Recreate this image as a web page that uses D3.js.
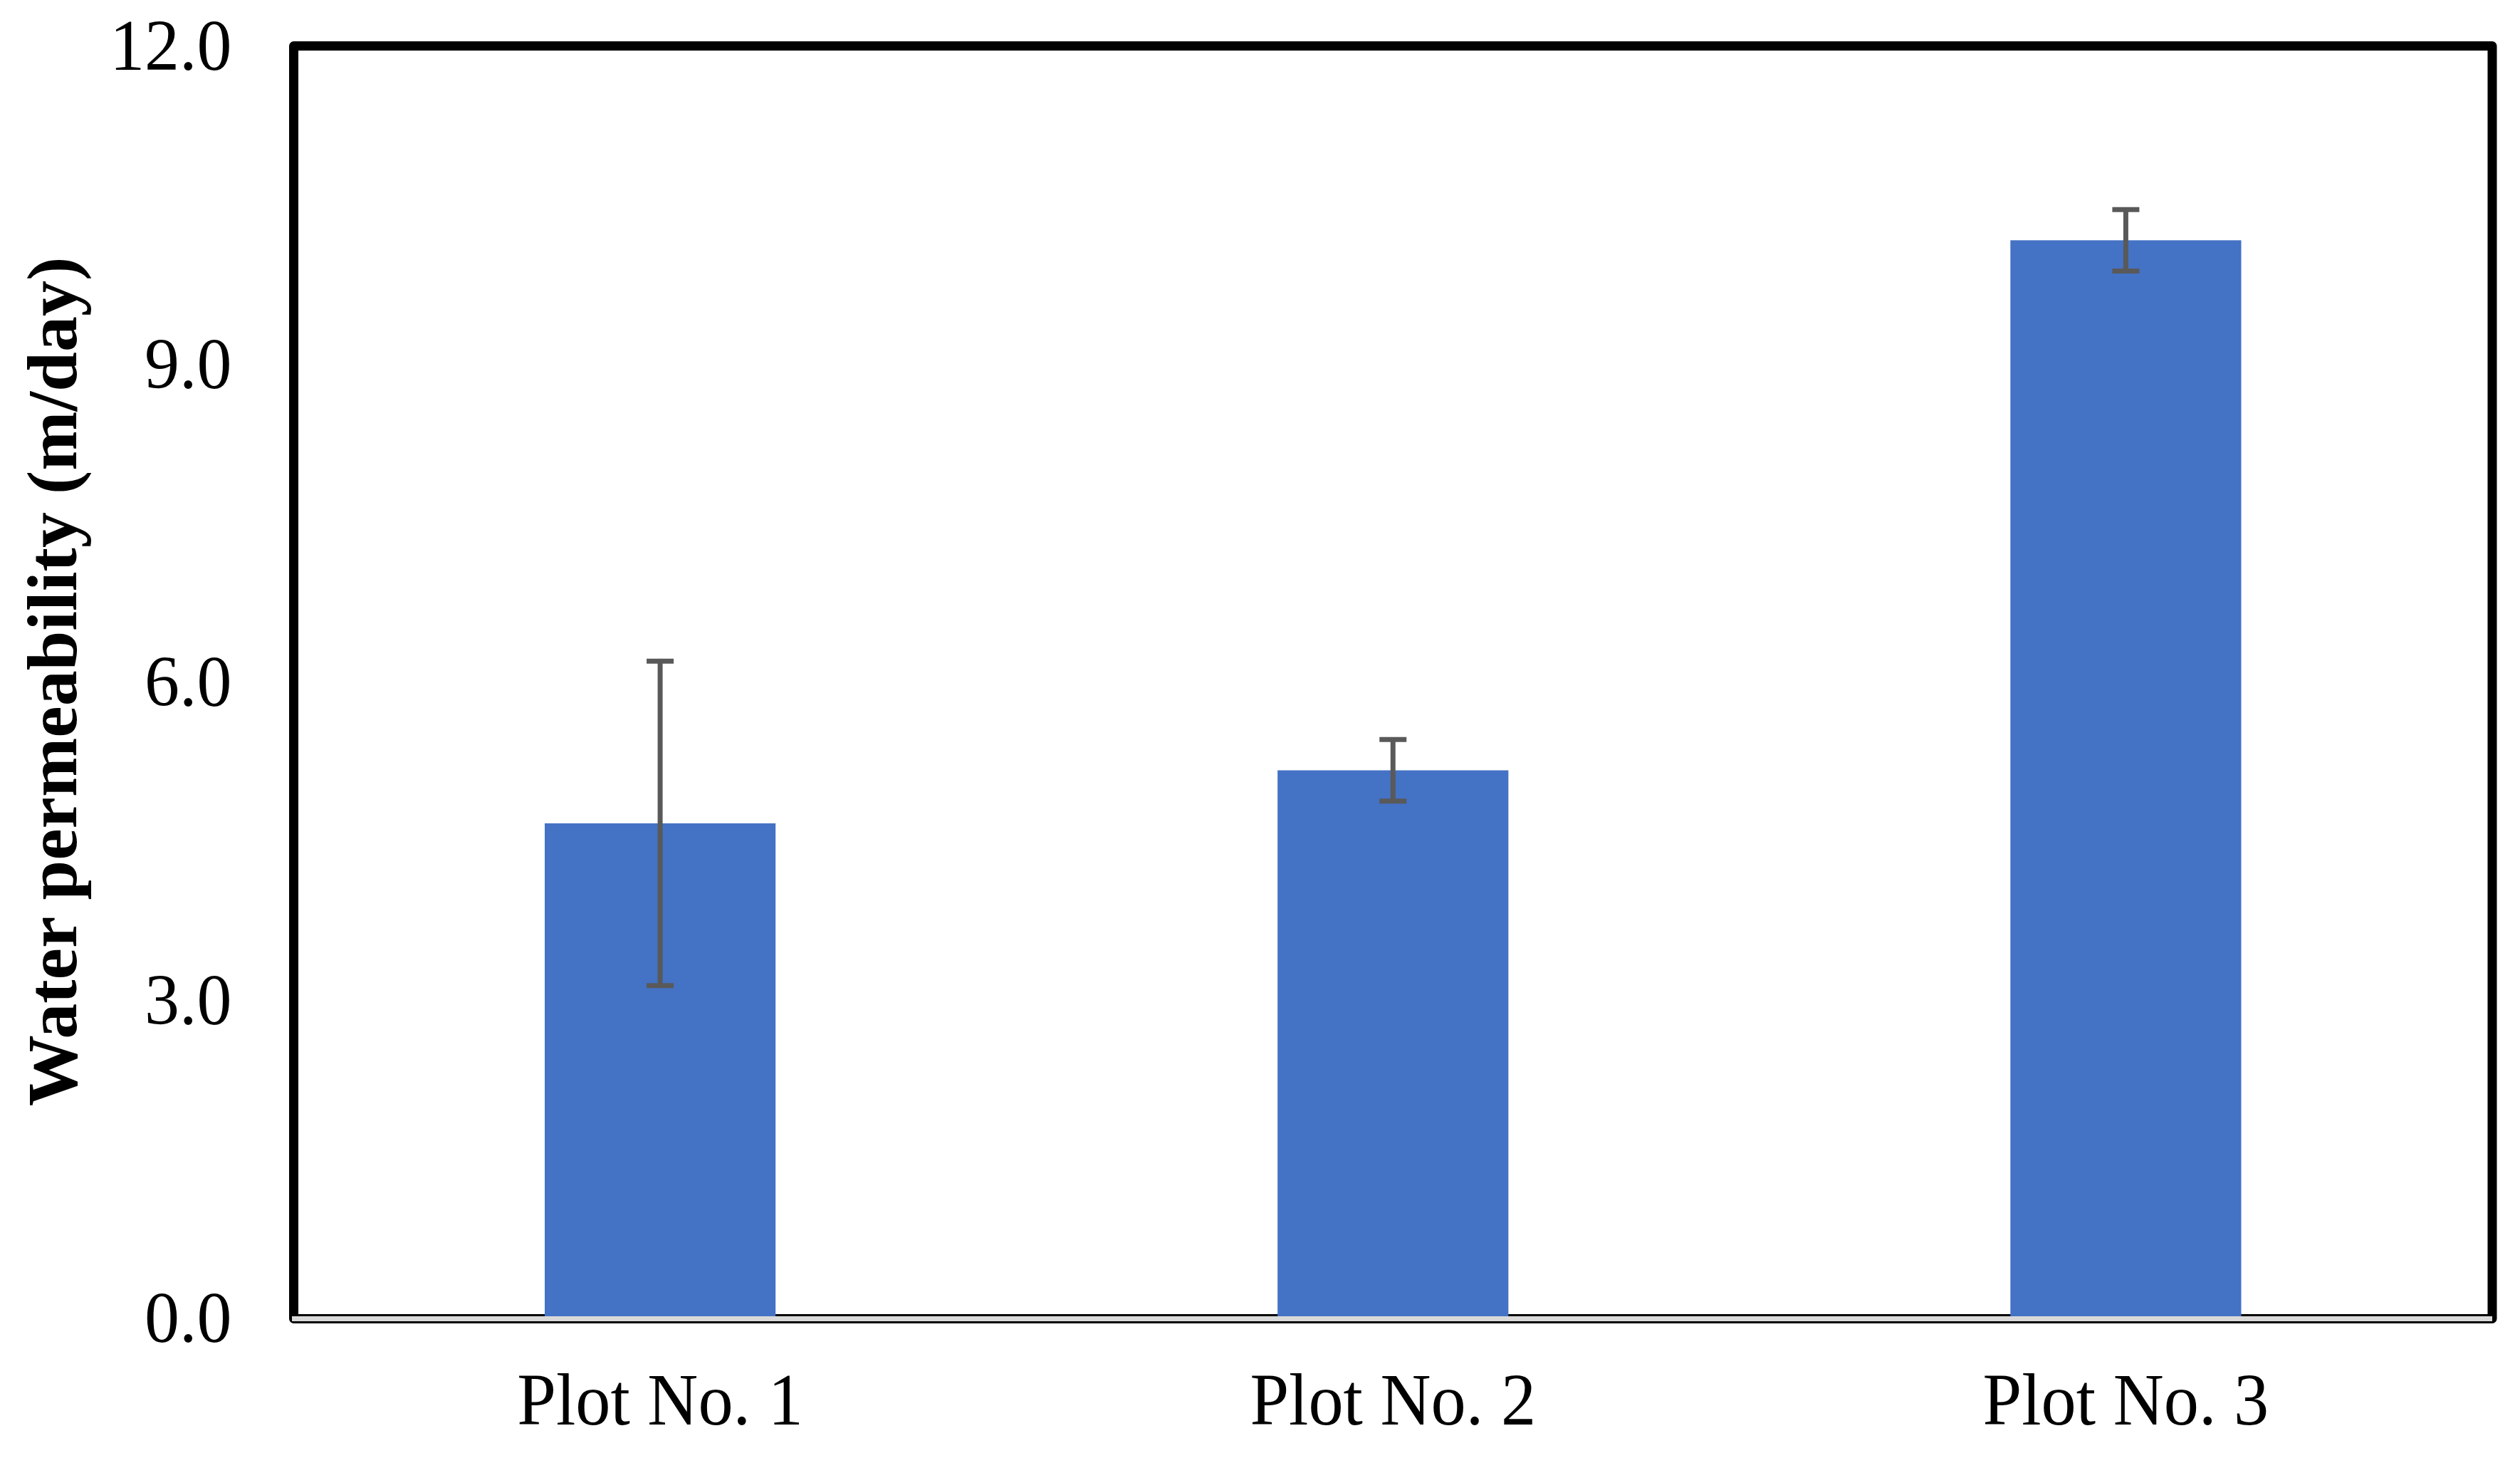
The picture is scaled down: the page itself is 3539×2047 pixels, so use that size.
<!DOCTYPE html>
<html>
<head>
<meta charset="utf-8">
<script src="https://cdn.jsdelivr.net/npm/d3@7"></script>
<style>
  html, body { margin: 0; padding: 0; background: #ffffff; }
  svg { display: block; }
</style>
</head>
<body>
<script>
// ---- data ----
const categories = ["Plot No. 1", "Plot No. 2", "Plot No. 3"];
const values = [4.65, 5.15, 10.15];
const errors = [1.53, 0.29, 0.29];
const yTicks = [0, 3, 6, 9, 12];
const yTitle = "Water permeability (m/day)";

// ---- layout ----
const W = 3539, H = 2047;
const plotLeft = 412.5, plotRight = 3500, plotTop = 62, plotBottom = 1848;

const svg = d3.select("body").append("svg")
  .attr("width", W).attr("height", H)
  .style("font-family", "'Liberation Serif', 'Times New Roman', serif");

svg.append("rect").attr("width", W).attr("height", H).attr("fill", "#ffffff");

const x = d3.scaleBand().domain(categories)
  .range([plotLeft, plotRight]).paddingInner(0.685).paddingOuter(0.3425);
const y = d3.scaleLinear().domain([0, 12]).range([plotBottom, plotTop]);

// frame
svg.append("rect")
  .attr("x", 412.5).attr("y", 64.5)
  .attr("width", 3500 - 412.5).attr("height", 1851.5 - 64.5)
  .attr("fill", "none").attr("stroke", "#000").attr("stroke-width", 13)
  .attr("stroke-linejoin", "round");

// category axis line (gray)
svg.append("line")
  .attr("x1", 410).attr("x2", 3500)
  .attr("y1", 1851.5).attr("y2", 1851.5)
  .attr("stroke", "#d9d9d9").attr("stroke-width", 7);

// bars
svg.append("g").selectAll("rect").data(values).join("rect")
  .attr("x", (d, i) => x(categories[i]))
  .attr("width", x.bandwidth())
  .attr("y", d => y(d))
  .attr("height", d => y(0) - y(d))
  .attr("fill", "#4472C4");

// error bars
const eg = svg.append("g").attr("stroke", "#595959").attr("stroke-width", 7);
values.forEach((v, i) => {
  const cx = x(categories[i]) + x.bandwidth() / 2;
  const hi = y(v + errors[i]), lo = y(v - errors[i]);
  eg.append("line").attr("x1", cx).attr("x2", cx).attr("y1", hi).attr("y2", lo);
  eg.append("line").attr("x1", cx - 19).attr("x2", cx + 19).attr("y1", hi).attr("y2", hi);
  eg.append("line").attr("x1", cx - 19).attr("x2", cx + 19).attr("y1", lo).attr("y2", lo);
});

// y axis
const yAxis = svg.append("g").attr("transform", `translate(${plotLeft},0)`)
  .call(d3.axisLeft(y).tickValues(yTicks).tickFormat(d3.format(".1f")).tickSize(0));
yAxis.select(".domain").remove();
yAxis.selectAll("text")
  .attr("x", 0).attr("dy", "0.35em")
  .attr("transform", "translate(-87,0) scale(0.96,1)")
  .attr("text-anchor", "end")
  .style("font-family", "'Liberation Serif', 'Times New Roman', serif")
  .style("font-size", "102px").attr("fill", "#000");

// x axis labels
const xAxis = svg.append("g").attr("transform", `translate(0,${plotBottom})`)
  .call(d3.axisBottom(x).tickSize(0));
xAxis.select(".domain").remove();
xAxis.selectAll("text")
  .attr("y", 0).attr("dy", 0).attr("x", 0)
  .attr("transform", "translate(0,152) scale(0.955,1)")
  .style("font-family", "'Liberation Serif', 'Times New Roman', serif")
  .style("font-size", "103px").attr("fill", "#000");

// y title
svg.append("text")
  .attr("transform", "translate(107,957) rotate(-90)")
  .attr("text-anchor", "middle")
  .style("font-size", "100px").style("font-weight", "bold")
  .attr("fill", "#000")
  .text(yTitle);
</script>
</body>
</html>
